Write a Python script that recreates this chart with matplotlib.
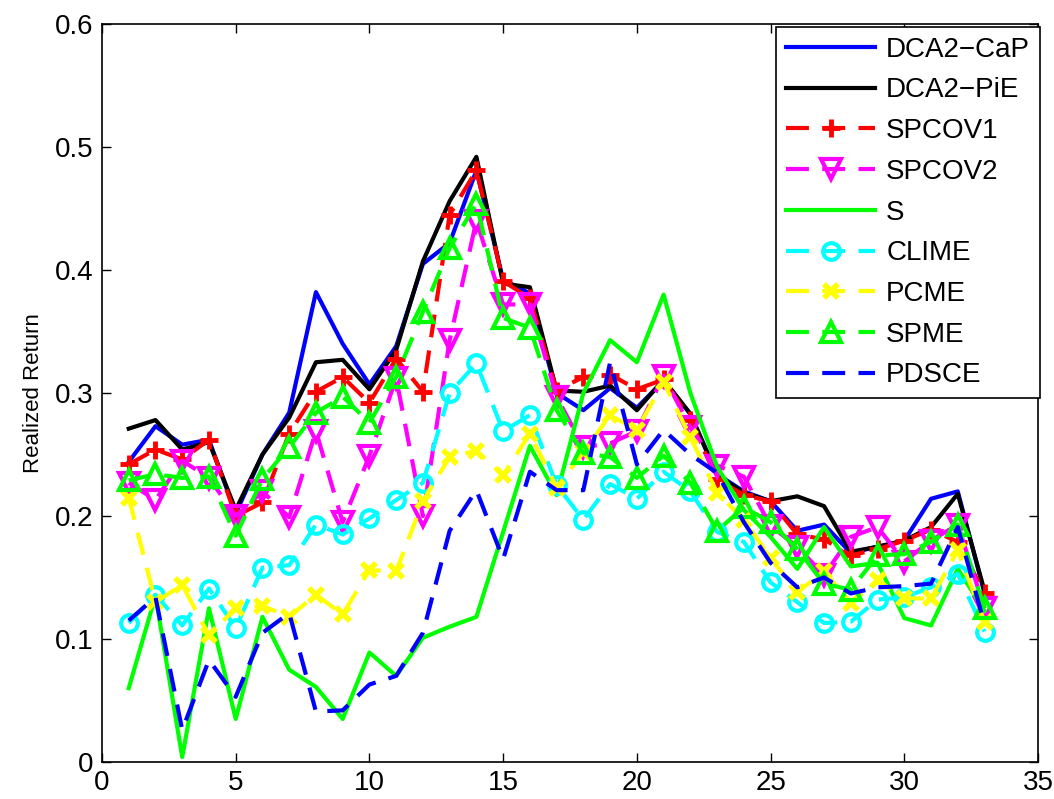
import matplotlib
matplotlib.use('Agg')
import matplotlib.pyplot as plt
from matplotlib.ticker import FormatStrFormatter

# Realized return per test period (33 periods)
periods = list(range(1, 34))

dca2_cap = [0.244, 0.273, 0.258, 0.262, 0.202, 0.250, 0.284, 0.382, 0.340, 0.307,
            0.338, 0.405, 0.422, 0.481, 0.392, 0.381, 0.300, 0.286, 0.304, 0.288,
            0.310, 0.283, 0.234, 0.220, 0.212, 0.188, 0.193, 0.170, 0.175, 0.180,
            0.214, 0.220, 0.137]
dca2_pie = [0.271, 0.278, 0.254, 0.260, 0.205, 0.250, 0.280, 0.325, 0.327, 0.303,
            0.335, 0.407, 0.456, 0.492, 0.389, 0.386, 0.302, 0.301, 0.306, 0.286,
            0.311, 0.283, 0.233, 0.219, 0.212, 0.216, 0.208, 0.171, 0.175, 0.180,
            0.191, 0.218, 0.139]
spcov1 = [0.242, 0.254, 0.246, 0.262, 0.200, 0.211, 0.267, 0.301, 0.313, 0.292,
          0.328, 0.301, 0.445, 0.481, 0.391, 0.377, 0.302, 0.313, 0.315, 0.303,
          0.311, 0.278, 0.230, 0.217, 0.212, 0.185, 0.181, 0.168, 0.173, 0.180,
          0.189, 0.179, 0.137]
spcov2 = [0.227, 0.213, 0.245, 0.231, 0.200, 0.220, 0.199, 0.269, 0.195, 0.249,
          0.312, 0.200, 0.343, 0.440, 0.372, 0.372, 0.297, 0.256, 0.259, 0.269,
          0.314, 0.272, 0.241, 0.232, 0.192, 0.175, 0.152, 0.183, 0.191, 0.163,
          0.180, 0.193, 0.125]
s_est = [0.060, 0.135, 0.004, 0.125, 0.035, 0.118, 0.075, 0.061, 0.035, 0.089,
         0.070, 0.101, 0.110, 0.118, 0.187, 0.257, 0.217, 0.300, 0.343, 0.325,
         0.380, 0.300, 0.240, 0.205, 0.183, 0.157, 0.191, 0.159, 0.162, 0.117,
         0.111, 0.157, 0.123]
clime = [0.113, 0.136, 0.111, 0.141, 0.109, 0.158, 0.160, 0.193, 0.185, 0.198,
         0.213, 0.227, 0.300, 0.324, 0.269, 0.282, 0.225, 0.197, 0.226, 0.214,
         0.236, 0.220, 0.187, 0.179, 0.146, 0.130, 0.113, 0.114, 0.132, 0.134,
         0.142, 0.153, 0.106]
pcme = [0.215, 0.130, 0.144, 0.103, 0.125, 0.127, 0.118, 0.136, 0.120, 0.156,
        0.155, 0.212, 0.248, 0.253, 0.233, 0.267, 0.223, 0.252, 0.282, 0.270,
        0.309, 0.264, 0.219, 0.197, 0.166, 0.138, 0.155, 0.129, 0.148, 0.133,
        0.133, 0.172, 0.114]
spme = [0.229, 0.234, 0.231, 0.232, 0.184, 0.230, 0.256, 0.284, 0.297, 0.276,
        0.313, 0.366, 0.418, 0.454, 0.361, 0.353, 0.286, 0.251, 0.248, 0.231,
        0.249, 0.227, 0.188, 0.207, 0.195, 0.173, 0.145, 0.140, 0.168, 0.169,
        0.179, 0.193, 0.125]
pdsce = [0.115, 0.134, 0.026, 0.083, 0.053, 0.105, 0.121, 0.041, 0.042, 0.063,
         0.070, 0.105, 0.188, 0.221, 0.165, 0.236, 0.221, 0.221, 0.325, 0.242,
         0.270, 0.250, 0.235, 0.195, 0.162, 0.142, 0.150, 0.137, 0.142, 0.143,
         0.145, 0.191, 0.112]

x_ticks = [0, 5, 10, 15, 20, 25, 30, 35]
y_ticks = [0, 0.1, 0.2, 0.3, 0.4, 0.5, 0.6]

plt.rcParams['font.family'] = ['Liberation Sans', 'DejaVu Sans']

fig = plt.figure(figsize=(10.54, 7.99), dpi=100, facecolor='white')
ax = fig.add_axes([102 / 1054, 37 / 799, 936 / 1054, 738 / 799])

lw = 3.0
dash = (0, (5.5, 3.2))

ax.plot(periods, dca2_cap, color=(0, 0, 1), lw=lw, label='DCA2\u2212CaP')
ax.plot(periods, dca2_pie, color='black', lw=lw, label='DCA2\u2212PiE')
ax.plot(periods, spcov1, color=(1, 0, 0), lw=lw, ls=dash, marker='+',
        ms=13, mew=3.5, label='SPCOV1')
ax.plot(periods, spcov2, color=(1, 0, 1), lw=lw, ls=dash, marker='v',
        ms=15, mew=3.0, mfc='none', label='SPCOV2')
ax.plot(periods, s_est, color=(0, 1, 0), lw=lw, label='S')
ax.plot(periods, clime, color=(0, 1, 1), lw=lw, ls=dash, marker='o',
        ms=12, mew=3.0, mfc='none', label='CLIME')
ax.plot(periods, pcme, color=(1, 1, 0), lw=lw, ls=dash, marker='x',
        ms=10, mew=4, label='PCME')
ax.plot(periods, spme, color=(0, 1, 0), lw=lw, ls=dash, marker='^',
        ms=15, mew=3.0, mfc='none', label='SPME')
ax.plot(periods, pdsce, color=(0, 0, 1), lw=lw, ls=dash, label='PDSCE')

ax.set_xlim(0, 35)
ax.set_ylim(0, 0.6)
ax.set_xticks(x_ticks)
ax.set_yticks(y_ticks)
ax.yaxis.set_major_formatter(FormatStrFormatter('%g'))
ax.tick_params(direction='in', length=6.5, width=1, labelsize=20,
               top=True, right=True, pad=6)
for sp in ax.spines.values():
    sp.set_linewidth(1.2)

ax.set_ylabel('Realized Return', fontsize=16, labelpad=8)

leg = ax.legend(loc='upper right', bbox_to_anchor=(1.002, 0.996),
                borderaxespad=0, fontsize=20, frameon=True, fancybox=False,
                edgecolor='black', framealpha=1, handlelength=3.2,
                handletextpad=0.4, labelspacing=0.53, borderpad=0.35)
leg.get_frame().set_linewidth(1.2)

fig.savefig('out.png', dpi=100, facecolor='white')
plt.close(fig)
